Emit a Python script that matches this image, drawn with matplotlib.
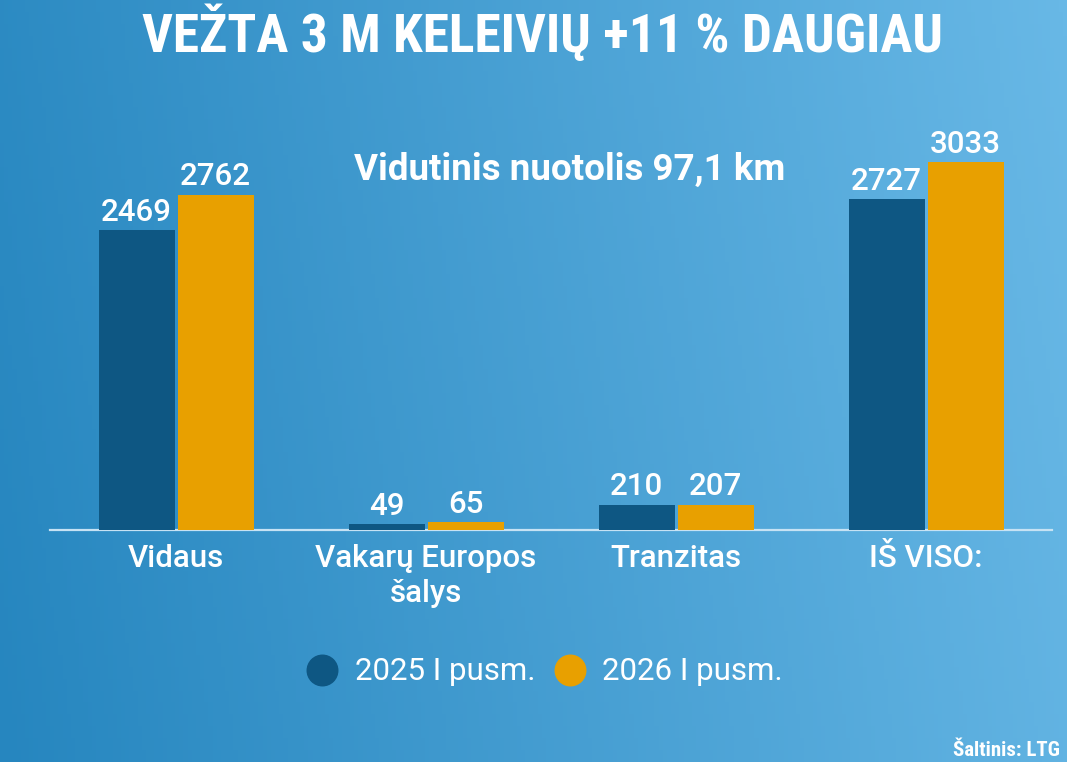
import matplotlib
matplotlib.use("Agg")
import matplotlib.pyplot as plt
import numpy as np
from matplotlib.colors import LinearSegmentedColormap
from matplotlib.lines import Line2D
from matplotlib import font_manager

categories = ["Vidaus", "Vakarų Europos\nšalys", "Tranzitas", "IŠ VISO:"]
series_2025 = [2469, 49, 210, 2727]
series_2026 = [2762, 65, 207, 3033]
legend_labels = ["2025 I pusm.", "2026 I pusm."]
title = "VEŽTA 3 M KELEIVIŲ +11 % DAUGIAU"
note = "Vidutinis nuotolis 97,1 km"
source = "Šaltinis: LTG"

avail = {f.name for f in font_manager.fontManager.ttflist}
cond = [f for f in ["Roboto Condensed", "Liberation Sans Narrow", "Roboto"] if f in avail] + ["DejaVu Sans"]
reg = [f for f in ["Roboto"] if f in avail] + ["DejaVu Sans"]
plt.rcParams["font.family"] = reg

C_DARK = "#0e5783"
C_ORANGE = "#e8a000"
FS = 22.5

W, H = 1067, 762
fig = plt.figure(figsize=(W / 100, H / 100), dpi=100)

# gradient background
bg = fig.add_axes([0, 0, 1, 1], zorder=-10)
cmap = LinearSegmentedColormap.from_list("bg", ["#2686bf", "#68b8e6"])
gx = np.linspace(0, 1, 256)
gy = np.linspace(0, 1, 64)
GX, GY = np.meshgrid(gx, gy)
grad = 0.9 * GX + 0.1 * (1 - GY)
bg.imshow(grad, cmap=cmap, aspect="auto", extent=[0, 1, 0, 1], origin="upper")
bg.set_axis_off()

# main axes: baseline at y=530 px, x from 50 to 1052
left, right = 50, 1052
base_y, top_y = 530, 130
ax = fig.add_axes([left / W, 1 - base_y / H, (right - left) / W, (base_y - top_y) / H])
ax.set_facecolor("none")
x = np.arange(len(categories))
bw = 0.304
gap = 0.006
b1 = ax.bar(x - bw / 2 - gap, series_2025, width=bw, color=C_DARK, zorder=3)
b2 = ax.bar(x + bw / 2 + gap, series_2026, width=bw, color=C_ORANGE, zorder=3)
ax.set_xlim(-0.504, 3.504)
ymax = 3033 * (base_y - top_y) / (base_y - 162)
ax.set_ylim(0, ymax)

for bars in (b1, b2):
    ax.bar_label(bars, labels=[str(v) for v in bars.datavalues], padding=2.5,
                 color="white", fontsize=FS, fontweight="medium")

for s in ["top", "left", "right"]:
    ax.spines[s].set_visible(False)
ax.spines["bottom"].set_color("#c6e2f4")
ax.spines["bottom"].set_linewidth(1.6)
ax.set_yticks([])
ax.set_xticks(x)
ax.set_xticklabels(categories, color="white", fontsize=FS, fontweight="medium",
                   linespacing=1.25)
ax.tick_params(axis="x", length=0, pad=10)

fig.text(543 / W, 1 - 34 / H, title, ha="center", va="center", color="white",
         fontsize=38.5, fontweight="bold", family=cond)
fig.text(570 / W, 1 - 170 / H, note, ha="center", va="center", color="white",
         fontsize=26.5, fontweight="bold", family=reg)
fig.text(1060 / W, 1 - 750 / H, source, ha="right", va="center", color="white",
         fontsize=15, fontweight="bold", family=cond)

handles = [Line2D([], [], marker="o", linestyle="none", markersize=22, color=c)
           for c in (C_DARK, C_ORANGE)]
fig.legend(handles, legend_labels, loc="center", bbox_to_anchor=(543 / W, 1 - 672 / H),
           ncol=2, frameon=False, fontsize=FS, labelcolor="white",
           handletextpad=0.45, columnspacing=0.5, handlelength=1.2)

fig.savefig("out.png", dpi=100)
